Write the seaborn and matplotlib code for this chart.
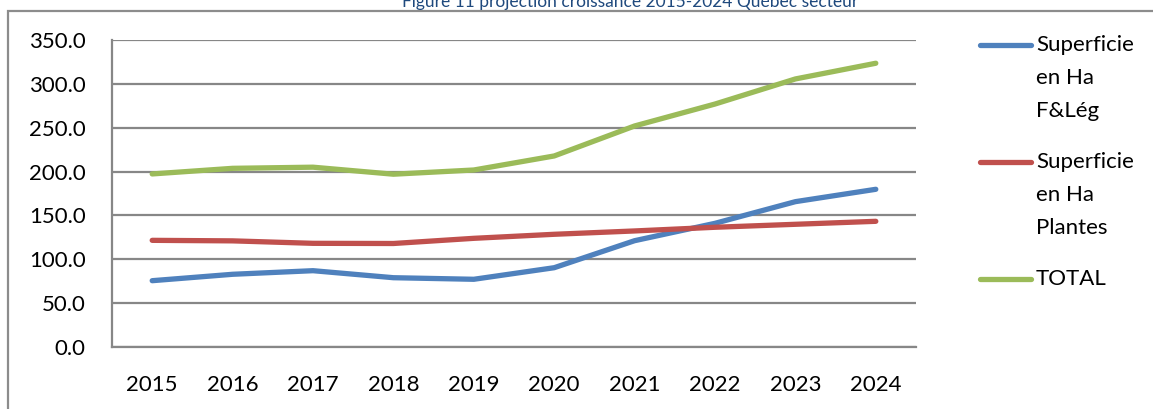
import matplotlib
matplotlib.use("Agg")
import matplotlib.pyplot as plt
from matplotlib.lines import Line2D
from matplotlib.patches import Rectangle
import seaborn as sns
import pandas as pd

years = ["2015", "2016", "2017", "2018", "2019", "2020", "2021", "2022", "2023", "2024"]
fleg = [75.6, 82.9, 87.0, 79.0, 77.2, 90.4, 121.2, 141.0, 165.7, 179.8]
plantes = [121.6, 121.0, 118.2, 118.0, 123.9, 128.5, 132.3, 136.5, 139.9, 143.3]
total = [197.3, 203.7, 205.0, 197.0, 201.8, 217.8, 252.0, 277.0, 305.6, 323.5]
series_names = ["Superficie en Ha F&Lég", "Superficie en Ha Plantes", "TOTAL"]
legend_labels = ["Superficie\nen Ha\nF&Lég", "Superficie\nen Ha\nPlantes", "TOTAL"]
colors = ["#4F81BD", "#C0504D", "#9BBB59"]
title = "Figure 11 projection croissance 2015-2024 Québec secteur"

sns.set_theme(style="white")
plt.rcParams["font.family"] = ["Lato", "DejaVu Sans"]

W, H = 1153, 409
fig = plt.figure(figsize=(W / 100, H / 100), dpi=100)

def fx(px):
    return px / W

def fy(py):
    return 1 - py / H

ax = fig.add_axes([fx(112), fy(347), fx(916) - fx(112), fy(40) - fy(347)])

rows = []
for name, vals in zip(series_names, [fleg, plantes, total]):
    for i, v in enumerate(vals):
        rows.append({"pos": i, "valeur": v, "serie": name})
df = pd.DataFrame(rows)

sns.lineplot(data=df, x="pos", y="valeur", hue="serie", palette=colors,
             hue_order=series_names, linewidth=3.8, legend=False, ax=ax,
             solid_capstyle="round", zorder=3)

grid_color = "#878787"
tick_size = 16
ax.set_xlim(-0.5, len(years) - 0.5)
ax.set_ylim(0, 350)
ax.set_yticks(range(0, 351, 50))
ax.set_yticklabels([f"{v:.1f}" for v in range(0, 351, 50)])
ax.yaxis.grid(True, color=grid_color, linewidth=1.6, zorder=1)
ax.set_axisbelow(True)

ax.set_xticks([i - 0.5 for i in range(len(years) + 1)])
ax.set_xticklabels([])
ax.set_xticks(range(len(years)), minor=True)
ax.set_xticklabels(years, minor=True)
ax.tick_params(axis="x", which="major", length=8, width=1.5, color=grid_color, direction="out")
ax.tick_params(axis="x", which="minor", length=0, pad=20, labelsize=tick_size, labelcolor="black")
ax.tick_params(axis="y", length=8, width=1.5, color=grid_color, direction="out",
               labelsize=tick_size, labelcolor="black", pad=11)
ax.set_xlabel("")
ax.set_ylabel("")

for side in ["top", "right"]:
    ax.spines[side].set_visible(False)
for side in ["left", "bottom"]:
    ax.spines[side].set_color(grid_color)
    ax.spines[side].set_linewidth(1.6)

# chart frame
fig.add_artist(Rectangle((fx(8), -0.2), 1.2, fy(11) + 0.2, transform=fig.transFigure,
                         fill=False, edgecolor="#8C8C8C", linewidth=1.6))

fig.text(fx(630), fy(7), title, ha="center", va="baseline", fontsize=12.5, color="#1F497D")

# legend entries
legend_y = [45, 162, 279]
for label, color, y in zip(legend_labels, colors, legend_y):
    fig.add_artist(Line2D([fx(980), fx(1031)], [fy(y), fy(y)], color=color, linewidth=3.8,
                          solid_capstyle="round", transform=fig.transFigure))
    fig.text(fx(1036), fy(y - 10), label, ha="left", va="top", fontsize=tick_size,
             color="black", linespacing=1.8)

fig.savefig("out.png", dpi=100, facecolor="white")
